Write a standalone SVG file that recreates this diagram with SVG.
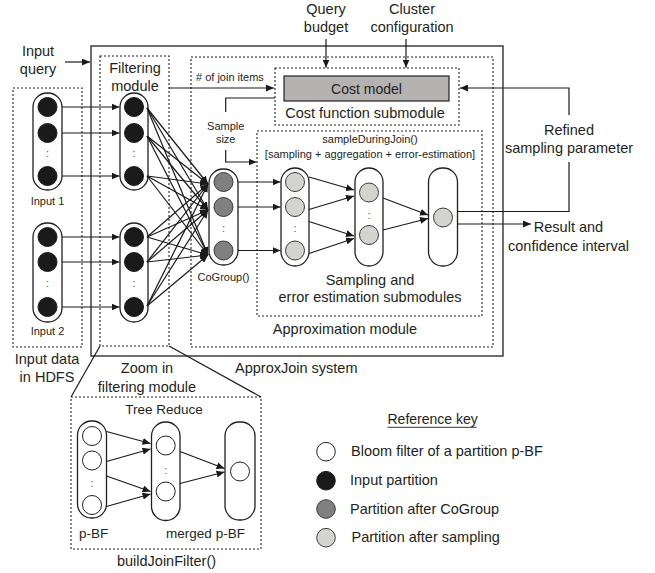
<svg xmlns="http://www.w3.org/2000/svg" width="655" height="573" viewBox="0 0 655 573">
<defs>
<marker id="ah" markerUnits="userSpaceOnUse" markerWidth="9" markerHeight="7" refX="8" refY="3.5" orient="auto">
<path d="M0,0 L8,3.5 L0,7 z" fill="#1a1a1a"/>
</marker>
<style>
text{font-family:"Liberation Sans",Arial,sans-serif;fill:#231f20}
.t{font-size:14.5px}
.s{font-size:11px}
.m{text-anchor:middle}
.dot{fill:none;stroke:#231f20;stroke-width:1.1;stroke-dasharray:2 2}
.pill{fill:#fff;stroke:#231f20;stroke-width:1.3}
.cb{fill:#1a1a1a;stroke:#1a1a1a;stroke-width:1}
.cg{fill:#808080;stroke:#3a3a3a;stroke-width:1}
.cs{fill:#d4d4cf;stroke:#3a3a3a;stroke-width:1}
.cw{fill:#fff;stroke:#231f20;stroke-width:1}
.ln{fill:none;stroke:#1a1a1a;stroke-width:1.2}
.ar{fill:none;stroke:#1a1a1a;stroke-width:1.2;marker-end:url(#ah)}
.colon{font-size:11px;fill:#555;text-anchor:middle}
</style>
</defs>
<rect width="655" height="573" fill="#fff"/>

<g id="approxjoin-system">
<rect x="91" y="46" width="412" height="310" fill="none" stroke="#231f20" stroke-width="1.3"/>
<text class="t" x="235" y="373">ApproxJoin system</text>
</g>

<g id="input-query"><text class="t m" x="38" y="56">Input</text><text class="t m" x="38" y="74">query</text></g>
<g id="query-budget"><text class="t m" x="326" y="14">Query</text><text class="t m" x="326" y="32">budget</text></g>
<g id="cluster-configuration"><text class="t m" x="412" y="14">Cluster</text><text class="t m" x="412" y="32">configuration</text></g>

<g id="input-data">
<rect class="dot" x="13" y="88" width="69" height="259"/>
<text class="t m" x="47" y="364">Input data</text>
<text class="t m" x="47" y="382">in HDFS</text>
</g>
<g id="input1">
<rect class="pill" x="33" y="93" width="29" height="97" rx="14"/>
<circle class="cb" cx="47.5" cy="107" r="9.5"/><circle class="cb" cx="47.5" cy="133" r="9.5"/>
<text class="colon" x="47.5" y="157">:</text>
<circle class="cb" cx="47.5" cy="176" r="9.5"/>
<text class="s m" x="47.5" y="205">Input 1</text>
</g>
<g id="input2">
<rect class="pill" x="33" y="223" width="29" height="99" rx="14"/>
<circle class="cb" cx="47.5" cy="237" r="9.5"/><circle class="cb" cx="47.5" cy="262" r="9.5"/>
<text class="colon" x="47.5" y="287">:</text>
<circle class="cb" cx="47.5" cy="307" r="9.5"/>
<text class="s m" x="47.5" y="335">Input 2</text>
</g>

<g id="filtering-module">
<rect class="dot" x="100" y="56" width="69" height="290"/>
<text class="t m" x="135" y="73">Filtering</text>
<text class="t m" x="135" y="91">module</text>
</g>
<g id="filter1">
<rect class="pill" x="120" y="93" width="28" height="97" rx="14"/>
<circle class="cb" cx="134" cy="107" r="9.5"/><circle class="cb" cx="134" cy="133" r="9.5"/>
<text class="colon" x="134" y="157">:</text>
<circle class="cb" cx="134" cy="176" r="9.5"/>
</g>
<g id="filter2">
<rect class="pill" x="120" y="223" width="28" height="99" rx="14"/>
<circle class="cb" cx="134" cy="237" r="9.5"/><circle class="cb" cx="134" cy="262" r="9.5"/>
<text class="colon" x="134" y="287">:</text>
<circle class="cb" cx="134" cy="307" r="9.5"/>
</g>

<g id="approximation-module">
<rect class="dot" x="191" y="57" width="302" height="290"/>
<text class="t m" x="345" y="334">Approximation module</text>
</g>
<g id="cost-function-submodule">
<rect class="dot" x="275" y="68" width="184" height="57"/>
<text class="t m" x="365" y="118">Cost function submodule</text>
</g>
<g id="cost-model">
<rect x="284" y="76" width="165" height="25" fill="#b5b2b2" stroke="#231f20" stroke-width="1.2"/>
<text class="m" x="366.5" y="94" style="font-size:14px">Cost model</text>
</g>
<g id="sample-size"><text class="s m" x="225.7" y="130">Sample</text><text class="s m" x="225.7" y="143">size</text></g>
<g id="join-items"><text class="s" x="196" y="81"># of join items</text></g>
<g id="sampling-submodules">
<rect class="dot" x="257" y="131" width="225" height="185"/>
<text class="s m" x="370" y="143">sampleDuringJoin()</text>
<text class="s m" x="370" y="158">[sampling + aggregation + error-estimation]</text>
<text class="t m" x="370" y="285">Sampling and</text>
<text class="t m" x="370" y="302">error estimation submodules</text>
</g>
<g id="cogroup">
<rect class="pill" x="209" y="169" width="29" height="96" rx="14"/>
<circle class="cg" cx="223.5" cy="182" r="9.5"/><circle class="cg" cx="223.5" cy="207" r="9.5"/>
<text class="colon" x="223.5" y="232">:</text>
<circle class="cg" cx="223.5" cy="250.5" r="9.5"/>
<text class="s m" x="223.5" y="281">CoGroup()</text>
</g>
<g id="sample1">
<rect class="pill" x="281" y="168" width="28" height="98" rx="14"/>
<circle class="cs" cx="295" cy="182" r="9.5"/><circle class="cs" cx="295" cy="207" r="9.5"/>
<text class="colon" x="295" y="232">:</text>
<circle class="cs" cx="295" cy="250.5" r="9.5"/>
</g>
<g id="sample2">
<rect class="pill" x="355" y="168" width="28" height="98" rx="14"/>
<circle class="cs" cx="369" cy="192.5" r="9.5"/>
<text class="colon" x="369" y="219">:</text>
<circle class="cs" cx="369" cy="235" r="9.5"/>
</g>
<g id="sample3">
<rect class="pill" x="428.5" y="168" width="29" height="98" rx="14"/>
<circle class="cs" cx="443" cy="217.5" r="9.5"/>
</g>
<g id="refined-sampling-parameter"><text class="t m" x="569" y="135">Refined</text><text class="t m" x="569" y="153">sampling parameter</text></g>
<g id="result"><text class="t m" x="568.5" y="232">Result and</text><text class="t m" x="568.5" y="251">confidence interval</text></g>

<g id="zoom-label"><text class="t m" x="147" y="373">Zoom in</text><text class="t m" x="147" y="392">filtering module</text></g>
<g id="tree-reduce">
<rect class="dot" x="71" y="397" width="190" height="152"/>
<text class="m" x="164" y="413.5" style="font-size:13.5px">Tree Reduce</text>
<text x="79" y="537.5" style="font-size:13.5px">p-BF</text>
<text class="m" x="205.5" y="537.5" style="font-size:13.5px">merged p-BF</text>
</g>
<g id="build-join-filter"><text class="t m" x="166.5" y="566">buildJoinFilter()</text></g>
<g id="pbf1">
<rect class="pill" x="77.5" y="421" width="29" height="97" rx="14"/>
<circle class="cw" cx="92" cy="436" r="9.5"/><circle class="cw" cx="92" cy="460.5" r="9.5"/>
<text class="colon" x="92" y="487">:</text>
<circle class="cw" cx="92" cy="505" r="9.5"/>
</g>
<g id="pbf2">
<rect class="pill" x="151.5" y="422" width="28.5" height="98.5" rx="14"/>
<circle class="cw" cx="165.7" cy="445.5" r="9.5"/>
<text class="colon" x="165.7" y="474">:</text>
<circle class="cw" cx="165.7" cy="491.5" r="9.5"/>
</g>
<g id="pbf3">
<rect class="pill" x="225" y="422" width="30" height="98" rx="14"/>
<circle class="cw" cx="240" cy="471.5" r="9.5"/>
</g>

<g id="reference-key">
<text x="387.5" y="423.5" style="font-size:14px">Reference key</text>
<line x1="387.5" y1="427.3" x2="476.5" y2="427.3" stroke="#231f20" stroke-width="0.9"/>
<circle class="cw" cx="326" cy="451.7" r="9.3"/>
<text class="t" x="351" y="456">Bloom filter of a partition p-BF</text>
<circle class="cb" cx="326" cy="480.7" r="9.3"/>
<text class="t" x="350" y="485">Input partition</text>
<circle class="cg" cx="326" cy="509" r="9.3"/>
<text class="t" x="350" y="513.5">Partition after CoGroup</text>
<circle class="cs" cx="326" cy="537.7" r="9.3"/>
<text class="t" x="351.5" y="542">Partition after sampling</text>
</g>

<g id="connectors">
<line class="ar" x1="65" y1="62" x2="90" y2="62"/>
<line class="ar" x1="326" y1="39" x2="326" y2="67.5"/>
<line class="ar" x1="406" y1="39" x2="406" y2="67.5"/>
<line class="ar" x1="169" y1="88" x2="274" y2="88"/>
<polyline class="ln" points="275,98 225.7,98 225.7,112"/>
<polyline class="ar" points="225.7,150 225.7,162 256.5,162"/>
<line class="ar" x1="62" y1="107" x2="119.5" y2="107"/>
<line class="ar" x1="62" y1="133" x2="119.5" y2="133"/>
<line class="ar" x1="62" y1="176" x2="119.5" y2="176"/>
<line class="ar" x1="62" y1="237" x2="119.5" y2="237"/>
<line class="ar" x1="62" y1="262" x2="119.5" y2="262"/>
<line class="ar" x1="62" y1="307" x2="119.5" y2="307"/>
<line class="ar" x1="147" y1="108" x2="208" y2="184"/>
<line class="ar" x1="147" y1="108" x2="208" y2="210"/>
<line class="ar" x1="147" y1="108" x2="208" y2="255"/>
<line class="ar" x1="147" y1="136" x2="208" y2="184"/>
<line class="ar" x1="147" y1="136" x2="208" y2="210"/>
<line class="ar" x1="147" y1="136" x2="208" y2="255"/>
<line class="ar" x1="147" y1="176" x2="208" y2="184"/>
<line class="ar" x1="147" y1="176" x2="208" y2="210"/>
<line class="ar" x1="147" y1="176" x2="208" y2="255"/>
<line class="ar" x1="147" y1="237" x2="208" y2="184"/>
<line class="ar" x1="147" y1="237" x2="208" y2="210"/>
<line class="ar" x1="147" y1="237" x2="208" y2="255"/>
<line class="ar" x1="147" y1="262" x2="208" y2="184"/>
<line class="ar" x1="147" y1="262" x2="208" y2="210"/>
<line class="ar" x1="147" y1="262" x2="208" y2="255"/>
<line class="ar" x1="147" y1="306" x2="208" y2="184"/>
<line class="ar" x1="147" y1="306" x2="208" y2="210"/>
<line class="ar" x1="147" y1="306" x2="208" y2="255"/>
<line class="ar" x1="238" y1="182" x2="280.5" y2="182"/>
<line class="ar" x1="238" y1="207" x2="280.5" y2="207"/>
<line class="ar" x1="238" y1="250.5" x2="280.5" y2="250.5"/>
<line class="ar" x1="309" y1="177" x2="354" y2="190"/>
<line class="ar" x1="309" y1="209.5" x2="354" y2="196"/>
<line class="ar" x1="309" y1="221.5" x2="354" y2="236"/>
<line class="ar" x1="309" y1="253.5" x2="354" y2="238.5"/>
<line class="ar" x1="383" y1="198" x2="428" y2="215"/>
<line class="ar" x1="383" y1="230" x2="428" y2="218.5"/>
<polyline class="ln" points="457.5,211.5 569,211.5 569,162"/>
<polyline class="ar" points="569,115 569,88 460,88"/>
<line class="ar" x1="457.5" y1="224" x2="531" y2="224"/>
<line class="ln" x1="100" y1="346" x2="71" y2="397"/>
<line class="ln" x1="169" y1="346" x2="261" y2="397"/>
<line class="ar" x1="106.5" y1="431.5" x2="150.5" y2="443.5"/>
<line class="ar" x1="106.5" y1="461.5" x2="150.5" y2="449"/>
<line class="ar" x1="106.5" y1="476" x2="150.5" y2="491.5"/>
<line class="ar" x1="106.5" y1="506.5" x2="150.5" y2="494"/>
<line class="ar" x1="180" y1="451.5" x2="224.5" y2="468.5"/>
<line class="ar" x1="180" y1="483.5" x2="224.5" y2="472"/>
</g>
</svg>
